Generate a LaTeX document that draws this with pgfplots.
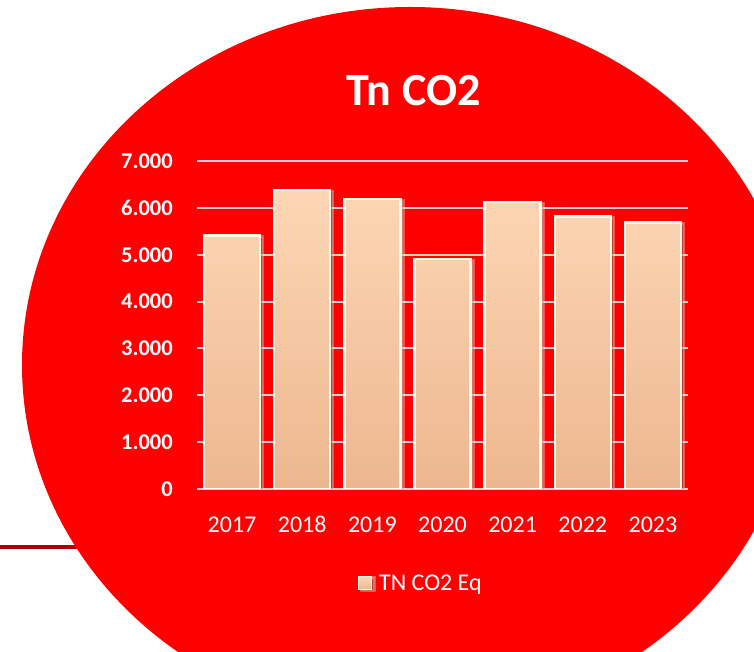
\documentclass[border=0pt]{standalone}
\usepackage{pgfplots}
\pgfplotsset{compat=1.18}
\usepackage{fontspec}
\setmainfont{Carlito}
\usetikzlibrary{shadows}
\definecolor{bgred}{RGB}{255,0,0}
\definecolor{linered}{RGB}{178,0,0}
\definecolor{gridgray}{RGB}{208,208,208}
\definecolor{bartop}{RGB}{253,214,181}
\definecolor{barbot}{RGB}{236,183,143}
\definecolor{barborder}{RGB}{255,248,232}
\begin{document}
\begin{tikzpicture}[x=1pt,y=1pt]
\path[use as bounding box] (0,0) rectangle (754,652);
\begin{scope}
\clip (0,0) rectangle (754,652);
\fill[white] (0,0) rectangle (754,652);
\draw[linered, line width=4pt] (0,105) -- (120,105);
\fill[bgred] (410,287) ellipse [x radius=388, y radius=358];
\end{scope}
\node[text=white, font=\bfseries\fontsize{46}{46}\selectfont, inner sep=0pt] at (413.5,561.5) {Tn CO2};
\begin{axis}[
  at={(197pt,163pt)}, anchor=south west,
  scale only axis, width=491pt, height=328pt,
  xmin=-0.5, xmax=6.5, ymin=0, ymax=7000,
  axis line style={draw=none},
  major tick length=0pt,
  xtick={0,...,6},
  xticklabels={2017,2018,2019,2020,2021,2022,2023},
  ytick={0,1000,...,7000},
  yticklabels={0,1.000,2.000,3.000,4.000,5.000,6.000,7.000},
  xticklabel style={text=white, font=\fontsize{24}{24}\selectfont, anchor=base, inner sep=0pt, yshift=-44pt},
  yticklabel style={text=white, font=\bfseries\fontsize{22.5}{22.5}\selectfont, anchor=east, inner sep=0pt, xshift=-24pt},
  ymajorgrids,
  grid style={gridgray, line width=2pt},
  legend style={draw=none, fill=none, text=white, font=\fontsize{24}{24}\selectfont, at={(0.456,-0.2866)}, anchor=center, inner sep=0pt, column sep=5pt},
  legend image code/.code={\draw[#1, line width=1pt] (0pt,-6.5pt) rectangle (13pt,6.5pt);},
]
\addplot[ybar, bar width=56pt, draw=barborder, line width=2.5pt, top color=bartop, bottom color=barbot,
  drop shadow={shadow xshift=3pt, shadow yshift=-1pt, opacity=0.3, fill=black}]
  coordinates {(0,5410) (1,6380) (2,6190) (3,4910) (4,6120) (5,5820) (6,5690)};
\addlegendentry{TN CO2 Eq}
\end{axis}
\end{tikzpicture}
\end{document}
